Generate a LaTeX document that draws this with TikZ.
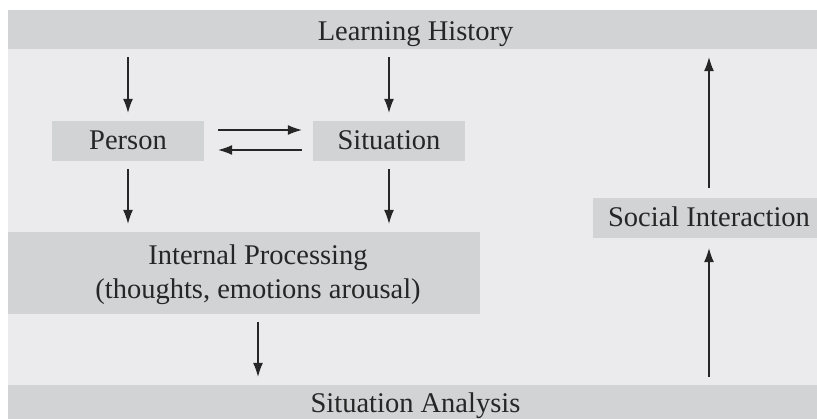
\documentclass[tikz,border=0pt]{standalone}
\usepackage{fontspec}
\setmainfont{Liberation Serif}
\usetikzlibrary{arrows.meta}
\definecolor{bggray}{RGB}{235,235,237}
\definecolor{boxgray}{RGB}{210,211,213}

\begin{document}
\begin{tikzpicture}[x=1pt,y=-1pt,
        font=\fontsize{28.5}{34}\selectfont,
        box/.style={rectangle,fill=boxgray,inner sep=0pt,text=black!85},
        bar/.style={box,minimum width=815pt},
        smallbox/.style={box,text height=29pt,text depth=11pt},
        arr/.style={-{Latex[length=14pt,width=10pt]},line width=1.1pt,black!85,shorten <=8pt,shorten >=8pt}]
        \clip (0,0) rectangle (817,419);
        \fill[white] (0,0) rectangle (817,419);
        \fill[bggray] (8,49) rectangle (823,385);

        \node(hist) at (415.5,29.5) [bar,text height=31pt,text depth=8pt] {Learning History};
        \node(analysis) at (415.5,410) [bar,text height=28pt,text depth=22pt] {Situation Analysis};

        \node(person) at (128,141) [smallbox,minimum width=152pt] {Person};
        \node(situation) at (389,141) [smallbox,minimum width=152pt] {Situation};
        \node(social) at (709,218) [smallbox,minimum width=232pt] {Social Interaction};

        \node(proc) at (244,273) [box,minimum width=472pt,minimum height=82pt] {};
        \node(proctext) at (258,274.5) [align=center,text=black!85] {Internal Processing\\(thoughts, emotions arousal)};

        \draw [arr] (person |- hist.south) -- (person.north);
        \draw [arr] (situation |- hist.south) -- (situation.north);

        \draw [arr,shorten <=14pt,shorten >=11pt] ([yshift=11pt]person.east) -- ([yshift=11pt]situation.west);
        \draw [arr,shorten <=11pt,shorten >=14pt] ([yshift=-9pt]situation.west) -- ([yshift=-9pt]person.east);

        \draw [arr] (person.south) -- (person |- proc.north);
        \draw [arr] (situation.south) -- (situation |- proc.north);

        \draw [arr] (proctext |- proc.south) -- (proctext |- analysis.north);

        \draw [arr,shorten >=10pt] (social |- analysis.north) -- (social.south);
        \draw [arr,shorten <=10pt] (social.north) -- (social |- hist.south);
    \end{tikzpicture}
\end{document}
